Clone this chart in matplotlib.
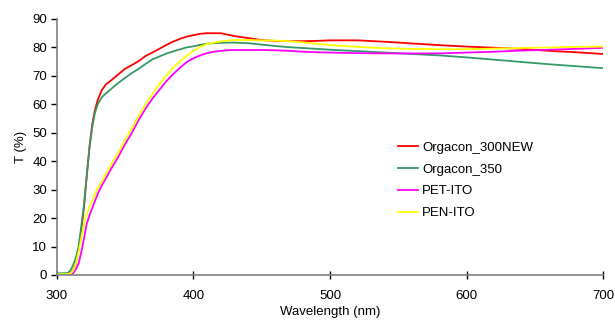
import matplotlib
matplotlib.use("Agg")
import matplotlib.pyplot as plt

plt.rcParams['font.family'] = ['Liberation Sans', 'DejaVu Sans']

wavelength = [300, 305, 308, 310, 312, 314, 316, 318, 320, 322, 324, 326, 328, 330,
              333, 336, 340, 345, 350, 355, 360, 365, 370, 375, 380, 385, 390, 395,
              400, 405, 410, 415, 420, 425, 430, 440, 450, 460, 470, 480, 490, 500,
              520, 540, 560, 580, 600, 620, 640, 660, 680, 700]

orgacon_300new = [0.3, 0.3, 0.3, 0.5, 1.5, 4, 9, 16, 24, 35, 45, 53, 58, 61.5,
                  65, 67, 68.5, 70.5, 72.5, 73.8, 75.2, 77, 78.2, 79.5, 80.8, 82, 83, 83.8,
                  84.3, 84.8, 85, 85, 85, 84.5, 84, 83.3, 82.6, 82.3, 82.2, 82.2, 82.3, 82.5,
                  82.5, 82, 81.4, 80.8, 80.3, 79.9, 79.5, 78.8, 78.3, 77.7]

orgacon_350 = [0.6, 0.6, 0.7, 1.5, 3.5, 6, 10, 17, 25, 35, 45, 52, 57, 60,
               62.5, 63.8, 65.5, 67.5, 69.3, 71, 72.5, 74.2, 75.8, 76.8, 77.8, 78.6, 79.3, 80,
               80.4, 80.9, 81.3, 81.5, 81.6, 81.7, 81.7, 81.5, 81, 80.5, 80.1, 79.8, 79.5, 79.2,
               78.7, 78.2, 77.7, 77.2, 76.5, 75.7, 74.9, 74.1, 73.4, 72.7]

pet_ito = [0, 0, 0, 0.2, 0.6, 2, 4, 8, 13, 18, 21, 23.5, 26, 28.5,
           31.5, 34, 37.5, 41.5, 46, 50, 54.5, 58.5, 62, 65, 68, 70.5, 72.8, 74.8,
           76.2, 77.2, 78, 78.5, 78.8, 79, 79.1, 79.1, 79.1, 79, 78.8, 78.5, 78.3, 78.2,
           78, 77.9, 77.9, 77.9, 78.2, 78.5, 78.9, 79.2, 79.5, 79.9]

pen_ito = [0.3, 0.3, 0.3, 0.5, 1.5, 4, 8, 13, 18, 21.5, 24, 26, 28.5, 30.5,
           33, 35.5, 39, 43, 47.5, 51.5, 56, 60, 63.5, 67, 70, 72.8, 75, 77,
           78.8, 80.2, 81.2, 81.7, 82.1, 82.4, 82.6, 82.6, 82.5, 82.4, 82.2, 81.8, 81.3, 80.8,
           80.2, 79.7, 79.5, 79.4, 79.4, 79.6, 79.8, 80, 80.2, 80.3]

series_names = ["Orgacon_300NEW", "Orgacon_350", "PET-ITO", "PEN-ITO"]
series_colors = ["#FF0000", "#339966", "#FF00FF", "#FFFF00"]

x_ticks = [300, 400, 500, 600, 700]
y_ticks = [0, 10, 20, 30, 40, 50, 60, 70, 80, 90]

fig = plt.figure(figsize=(6.15, 3.22), dpi=100)
ax = fig.add_axes([0.0922, 0.146, 0.889, 0.795])

for vals, name, col in zip([orgacon_300new, orgacon_350, pet_ito, pen_ito],
                           series_names, series_colors):
    ax.plot(wavelength, vals, color=col, lw=1.3, label=name)

ax.set_xlim(300, 700)
ax.set_ylim(0, 90)
ax.set_xticks(x_ticks)
ax.set_yticks(y_ticks)

for s in ['top', 'right']:
    ax.spines[s].set_visible(False)
for s in ['left', 'bottom']:
    ax.spines[s].set_color('#808080')
    ax.spines[s].set_linewidth(1.2)

ax.tick_params(axis='x', direction='inout', length=6, width=1, color='black',
               labelsize=9.5, pad=8)
ax.tick_params(axis='y', direction='out', length=4, width=1, color='black',
               labelsize=9.5, pad=3)

ax.set_xlabel("Wavelength (nm)", fontsize=9.5, labelpad=3)
ax.set_ylabel("T (%)", fontsize=9.5, labelpad=4)

leg = ax.legend(loc='upper left', bbox_to_anchor=(0.602, 0.567), frameon=False,
                fontsize=9.5, handlelength=1.5, handletextpad=0.35, labelspacing=0.72)

fig.savefig("out.png", dpi=100)
